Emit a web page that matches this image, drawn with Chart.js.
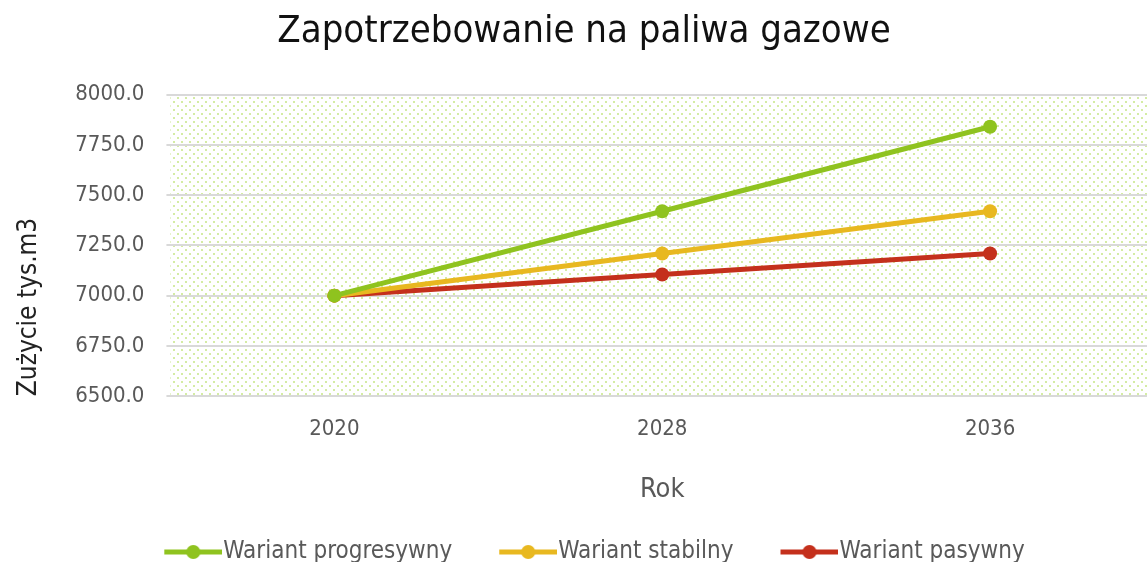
<!DOCTYPE html>
<html>
<head>
<meta charset="utf-8">
<script src="https://cdn.jsdelivr.net/npm/chart.js@4.4.1/dist/chart.umd.min.js"></script>
<style>
  html, body { margin: 0; padding: 0; background: #fff; overflow: hidden; }
  #wrap { width: 1170px; height: 578px; }
</style>
</head>
<body>
<div id="wrap"><canvas id="chart" width="1170" height="578"></canvas></div>
<script>
const years = ['2020', '2028', '2036'];
const progresywny = [7000, 7420, 7840];
const stabilny = [7000, 7210, 7420];
const pasywny = [7000, 7105, 7210];
const seriesNames = ['Wariant progresywny', 'Wariant stabilny', 'Wariant pasywny'];
const colors = ['#8fc31f', '#e8b820', '#c4301c'];

const FONT = "'Liberation Sans Narrow', 'DejaVu Sans Condensed', 'Roboto', sans-serif";

// kropkowane tlo jak w Excelu
function makePattern(ctx) {
    const c = document.createElement('canvas');
    c.width = 8; c.height = 8;
    const p = c.getContext('2d');
    p.fillStyle = '#ffffff';
    p.fillRect(0, 0, 8, 8);
    p.fillStyle = '#d4eca4';
    p.fillRect(1, 1, 2, 2);
    p.fillRect(5, 5, 2, 2);
    return ctx.createPattern(c, 'repeat');
}

// ikona legendy: linia z kropka, dosunieta do prawej (blisko tekstu)
function legendIcon(color) {
    const c = document.createElement('canvas');
    c.width = 90; c.height = 16;
    const p = c.getContext('2d');
    p.strokeStyle = color;
    p.lineWidth = 5;
    p.beginPath();
    p.moveTo(32, 8); p.lineTo(90, 8);
    p.stroke();
    p.fillStyle = color;
    p.beginPath();
    p.arc(61, 8, 7, 0, Math.PI * 2);
    p.fill();
    return c;
}

const bgPlugin = {
    id: 'bgPattern',
    beforeDraw(chart) {
        const { ctx, chartArea } = chart;
        ctx.save();
        ctx.fillStyle = makePattern(ctx);
        ctx.fillRect(chartArea.left, chartArea.top, chartArea.right - chartArea.left, chartArea.bottom - chartArea.top);
        ctx.restore();
    }
};

const seriesData = [progresywny, stabilny, pasywny];

new Chart(document.getElementById('chart').getContext('2d'), {
    type: 'line',
    data: {
        labels: years,
        datasets: seriesData.map((d, i) => ({
            label: seriesNames[i],
            data: d,
            borderColor: colors[i],
            backgroundColor: colors[i],
            borderWidth: 5,
            pointRadius: 7,
            pointHoverRadius: 7,
            pointBorderWidth: 0,
            tension: 0,
            order: i
        }))
    },
    options: {
        responsive: false,
        animation: false,
        layout: { padding: { left: 14, right: 16, top: 8, bottom: 4 } },
        plugins: {
            title: {
                display: true,
                text: 'Zapotrzebowanie na paliwa gazowe',
                color: '#111',
                font: { family: FONT, size: 38, weight: 'normal' },
                padding: { top: 1, bottom: 40 }
            },
            legend: {
                position: 'bottom',
                labels: {
                    usePointStyle: true,
                    pointStyleWidth: 68,
                    boxHeight: 16,
                    padding: 26,
                    color: '#595959',
                    font: { family: FONT, size: 24 },
                    generateLabels(chart) {
                        return chart.data.datasets.map((ds, i) => ({
                            text: ds.label,
                            pointStyle: legendIcon(colors[i]),
                            fillStyle: colors[i],
                            strokeStyle: colors[i],
                            lineWidth: 0,
                            fontColor: '#595959',
                            datasetIndex: i
                        }));
                    }
                }
            },
            tooltip: { enabled: false }
        },
        scales: {
            x: {
                offset: true,
                grid: { display: false },
                border: { display: false },
                ticks: { color: '#595959', font: { family: FONT, size: 22 }, padding: 12 },
                title: {
                    display: true,
                    text: 'Rok',
                    color: '#595959',
                    font: { family: FONT, size: 27 },
                    padding: { top: 19, bottom: 8 }
                }
            },
            y: {
                min: 6500,
                max: 8000,
                grid: { color: '#d9d9d9', lineWidth: 2, tickLength: 4 },
                border: { display: false },
                ticks: {
                    stepSize: 250,
                    color: '#595959',
                    font: { family: FONT, size: 22 },
                    padding: 22,
                    callback: v => v.toFixed(1)
                },
                title: {
                    display: true,
                    text: 'Zużycie tys.m3',
                    align: 'start',
                    color: '#222',
                    font: { family: FONT, size: 26 },
                    padding: { top: 0, bottom: 8 }
                }
            }
        }
    },
    plugins: [bgPlugin]
});
</script>
</body>
</html>
